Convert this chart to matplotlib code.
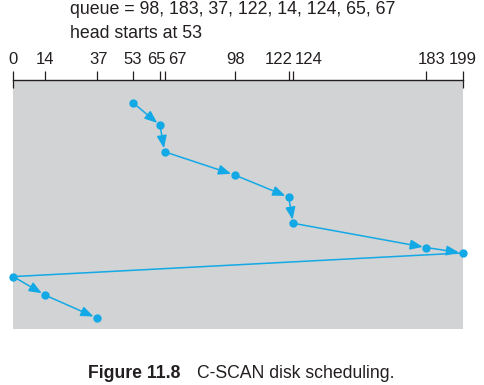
import matplotlib
matplotlib.use("Agg")
import matplotlib.pyplot as plt
from matplotlib.transforms import ScaledTranslation

plt.rcParams['font.family'] = ['Liberation Sans', 'DejaVu Sans']

# Data
queue = [98, 183, 37, 122, 14, 124, 65, 67]
head_start = 53
visit_order = [53, 65, 67, 98, 122, 124, 183, 199, 0, 14, 37]
visit_time = [0.0, 1.0, 2.18, 3.21, 4.2, 5.36, 6.44, 6.68, 7.73, 8.55, 9.57]
tick_values = [0, 14, 37, 53, 65, 67, 98, 122, 124, 183, 199]
no_arrow_segments = [(199, 0)]

# Layout: horizontal nudges (pixels) of crowded tick labels
label_nudge_px = [0, 0, 2, 0, -4, 13, 1.5, -9.5, 15.5, 5, 0]

BLUE = '#12a9e6'
GRAY = '#d1d3d4'
TXT = '#231f20'

DPI = 100
fig = plt.figure(figsize=(4.84, 3.85), dpi=DPI)
ax = fig.add_axes([13.3 / 484, 1 - 329 / 385, 449.2 / 484, 249 / 385])
ax.set_facecolor(GRAY)
ax.set_xlim(0, 199)
ax.set_ylim(10.06, -1.01)

for s in ['left', 'right', 'bottom']:
    ax.spines[s].set_visible(False)
ax.spines['top'].set_color(TXT)
ax.spines['top'].set_linewidth(1.0)

ax.xaxis.set_ticks_position('top')
ax.set_xticks(tick_values)
ax.set_xticklabels([str(v) for v in tick_values], fontsize=12, color=TXT)
ax.tick_params(axis='x', direction='out', length=6.2, width=0.9, color=TXT, pad=3.0)
ax.set_yticks([])

for lab, dx in zip(ax.get_xticklabels(), label_nudge_px):
    lab.set_transform(lab.get_transform() + ScaledTranslation(dx / DPI, 0, fig.dpi_scale_trans))

# end ticks extending below the axis line
for v in (tick_values[0], tick_values[-1]):
    ax.plot([v, v], [-1.01, -0.66], color=TXT, lw=0.9, clip_on=False,
            solid_capstyle='butt', zorder=5)

# path segments
for i in range(len(visit_order) - 1):
    x0, y0 = visit_order[i], visit_time[i]
    x1, y1 = visit_order[i + 1], visit_time[i + 1]
    if (x0, x1) in no_arrow_segments:
        ax.plot([x0, x1], [y0, y1], color=BLUE, lw=1.1, zorder=3)
    else:
        ax.annotate('', xy=(x1, y1), xytext=(x0, y0),
                    arrowprops=dict(arrowstyle='-|>,head_length=0.75,head_width=0.3',
                                    color=BLUE, lw=1.1, shrinkA=0, shrinkB=2.6),
                    zorder=3)

ax.plot(visit_order, visit_time, 'o', color=BLUE, ms=5.0, zorder=4, clip_on=False)

fig.text(70 / 484, 1 - 9.5 / 385,
         'queue = ' + ', '.join(str(q) for q in queue),
         fontsize=12.8, color=TXT, va='center', ha='left')
fig.text(70 / 484, 1 - 34 / 385, f'head starts at {head_start}',
         fontsize=12.8, color=TXT, va='center', ha='left')

fig.text(88 / 484, 1 - 377.5 / 385, 'Figure 11.8', fontsize=12.7, fontweight='bold',
         color=TXT, va='baseline', ha='left')
fig.text(196.7 / 484, 1 - 377.5 / 385, 'C-SCAN disk scheduling.', fontsize=12.7,
         color=TXT, va='baseline', ha='left')

fig.savefig('out.png', dpi=DPI)
